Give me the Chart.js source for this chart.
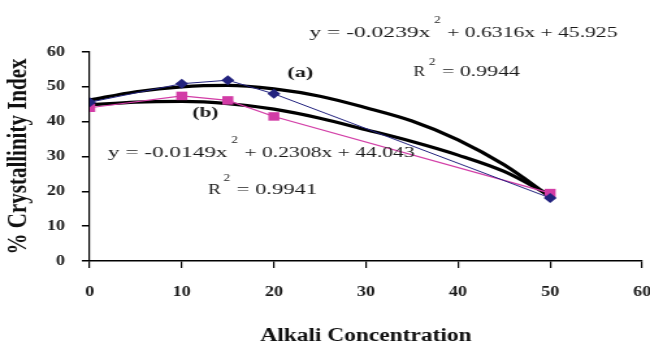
<!DOCTYPE html>
<html lang="en">
<head>
  <meta charset="UTF-8" />
  <title>Crystallinity Index</title>
  <script src="https://cdn.jsdelivr.net/npm/chart.js"></script>
  <style>
    body {
      margin: 0;
      background: #fff;
      overflow: hidden;
    }
    /* the original figure is stretched sideways, so the chart is drawn narrow and scaled */
    #crystChart {
      transform: scaleX(1.3);
      transform-origin: 0 0;
    }
  </style>
</head>
<body>
  <canvas id="crystChart" width="504" height="347"></canvas>

  <script>
    // measured points
    const concentration = [0, 10, 15, 20, 50];
    const seriesA = [45.6, 50.9, 51.9, 48.0, 18.1];
    const seriesB = [44.0, 47.4, 46.1, 41.5, 19.5];

    // polynomial trend lines
    const trendX = [0, 5, 10, 15, 20, 25, 30, 35, 40, 45, 50];
    const trendA = [46.2, 48.6, 50.0, 50.4, 49.4, 47.3, 44.0, 40.2, 34.8, 27.6, 18.4];
    const trendB = [44.8, 45.6, 45.8, 45.2, 43.6, 41.0, 37.7, 34.3, 30.4, 25.7, 18.8];

    const xTicks = [0, 10, 20, 30, 40, 50, 60];
    const yTicks = [0, 10, 20, 30, 40, 50, 60];

    const toXY = (xs, ys) => xs.map((x, i) => ({ x: x, y: ys[i] }));

    // equation text, placed in canvas pixels
    const notes = [
      { text: 'y = -0.0239x', x0: 238, x1: 331, y: 33 },
      { text: '+ 0.6316x + 45.925', x0: 344, x1: 475, y: 33 },
      { text: 'R', x0: 318, x1: 327, y: 72 },
      { text: '= 0.9944', x0: 340, x1: 400, y: 72 },
      { text: 'y = -0.0149x', x0: 83, x1: 175, y: 153 },
      { text: '+ 0.2308x + 44.043', x0: 188, x1: 319, y: 153 },
      { text: 'R', x0: 160, x1: 170, y: 190 },
      { text: '= 0.9941', x0: 182, x1: 244, y: 190 },
      { text: '(a)', x0: 221, x1: 241, y: 73, bold: true },
      { text: '(b)', x0: 148, x1: 168, y: 113, bold: true }
    ];
    const supers = [
      { x: 334, y: 20 }, { x: 330, y: 62 },
      { x: 178, y: 140 }, { x: 172, y: 178 }
    ];

    function drawFit(ctx, text, x0, x1, y, font) {
      ctx.font = font;
      const w = ctx.measureText(text).width;
      ctx.save();
      ctx.translate(x0, y);
      ctx.scale((x1 - x0) / w, 1);
      ctx.textAlign = 'left';
      ctx.textBaseline = 'middle';
      ctx.fillText(text, 0, 0);
      ctx.restore();
    }

    const equationLabels = {
      id: 'equationLabels',
      afterDraw(chart) {
        const ctx = chart.ctx;
        ctx.save();
        ctx.fillStyle = '#1a1a1a';
        notes.forEach(n => {
          const font = (n.bold ? 'bold ' : '') + '15px "Liberation Serif", serif';
          drawFit(ctx, n.text, n.x0, n.x1, n.y, font);
        });
        ctx.font = '10px "Liberation Serif", serif';
        ctx.textAlign = 'left';
        ctx.textBaseline = 'middle';
        supers.forEach(s => ctx.fillText('2', s.x, s.y));
        ctx.restore();
      }
    };

    const ctx = document.getElementById('crystChart').getContext('2d');
    const crystChart = new Chart(ctx, {
      type: 'scatter',
      data: {
        datasets: [
          {
            label: 'Trend (a)',
            data: toXY(trendX, trendA),
            showLine: true,
            borderColor: '#000',
            borderWidth: 3.2,
            pointRadius: 0,
            cubicInterpolationMode: 'monotone',
            order: 3
          },
          {
            label: 'Trend (b)',
            data: toXY(trendX, trendB),
            showLine: true,
            borderColor: '#000',
            borderWidth: 3.2,
            pointRadius: 0,
            cubicInterpolationMode: 'monotone',
            order: 3
          },
          {
            label: '(a)',
            data: toXY(concentration, seriesA),
            showLine: true,
            borderColor: '#22227e',
            borderWidth: 1,
            backgroundColor: '#22227e',
            pointStyle: 'rectRot',
            pointRadius: 5,
            pointBorderWidth: 0,
            order: 1
          },
          {
            label: '(b)',
            data: toXY(concentration, seriesB),
            showLine: true,
            borderColor: '#d23ca6',
            borderWidth: 1.2,
            backgroundColor: '#d23ca6',
            pointStyle: 'rect',
            pointRadius: 6,
            pointBorderWidth: 0,
            order: 2
          }
        ]
      },
      options: {
        responsive: false,
        animation: false,
        layout: { padding: { top: 52, right: 10, bottom: 0, left: 0 } },
        plugins: {
          legend: { display: false },
          tooltip: { enabled: false }
        },
        scales: {
          x: {
            type: 'linear',
            min: 0,
            max: 60,
            afterBuildTicks: s => { s.ticks = xTicks.map(v => ({ value: v })); },
            afterFit: s => { s.height = 86; s.paddingLeft = 0; s.paddingRight = 0; },
            border: { color: '#000', width: 1.5 },
            grid: { drawOnChartArea: false, color: '#000', lineWidth: 1.2, tickLength: 7 },
            ticks: {
              color: '#1a1a1a',
              padding: 16,
              maxRotation: 0,
              font: { family: '"Liberation Serif", serif', size: 14, weight: 'bold' }
            },
            title: {
              display: true,
              text: 'Alkali Concentration',
              color: '#111',
              padding: { top: 0, bottom: 0 },
              font: { family: '"Liberation Serif", serif', size: 18, weight: 'bold' }
            }
          },
          y: {
            min: 0,
            max: 60,
            afterBuildTicks: s => { s.ticks = yTicks.map(v => ({ value: v })); },
            afterFit: s => { s.width = 69; },
            border: { color: '#000', width: 1.2 },
            grid: { drawOnChartArea: false, color: '#000', lineWidth: 1.5, tickLength: 6 },
            ticks: {
              color: '#1a1a1a',
              padding: 13,
              font: { family: '"Liberation Serif", serif', size: 14, weight: 'bold' }
            },
            title: {
              display: true,
              text: '% Crystallinity Index',
              color: '#111',
              padding: { top: 2, bottom: 0 },
              font: { family: '"Liberation Serif", serif', size: 21, weight: 'bold' }
            }
          }
        }
      },
      plugins: [equationLabels]
    });
  </script>
</body>
</html>
